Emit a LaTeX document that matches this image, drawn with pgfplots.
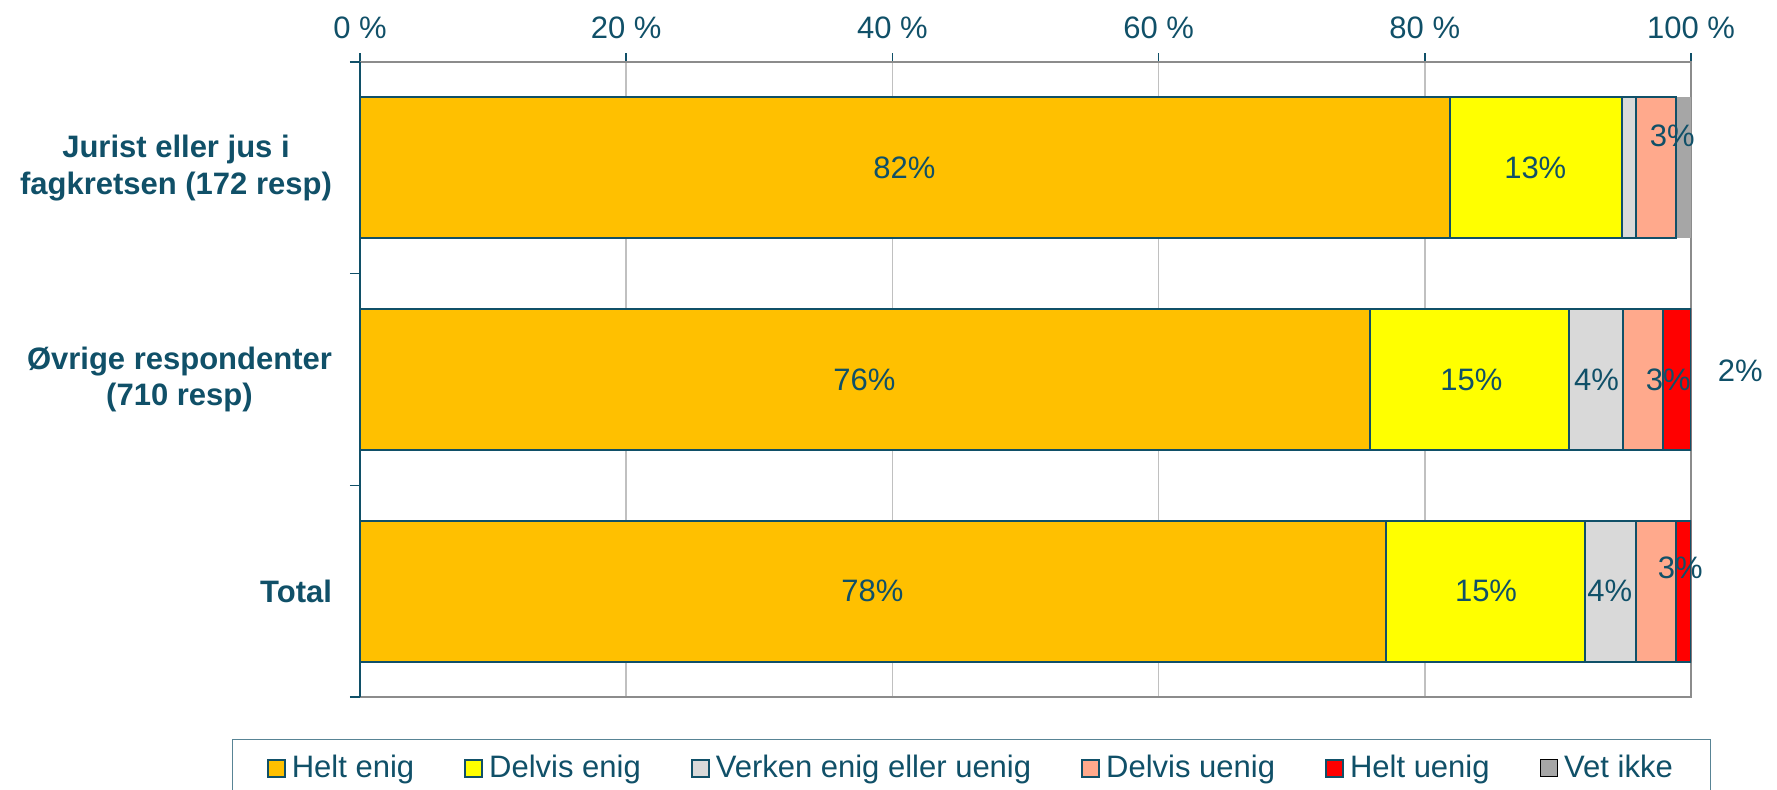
\documentclass[border=0pt]{standalone}
\usepackage{pgfplots}
\pgfplotsset{compat=1.18}
\usepackage{fontspec}
\setmainfont{Liberation Sans}
\definecolor{tealc}{RGB}{16,80,104}
\definecolor{framec}{RGB}{140,140,140}
\definecolor{gridc}{RGB}{192,192,192}
\definecolor{c1}{RGB}{255,192,0}
\definecolor{c2}{RGB}{255,255,0}
\definecolor{c3}{RGB}{217,217,217}
\definecolor{c4}{RGB}{255,169,140}
\definecolor{c5}{RGB}{255,0,0}
\definecolor{c6}{RGB}{166,166,166}
\newcommand{\lbl}{\fontsize{15.5}{18.3}\selectfont}

\begin{document}
\begin{tikzpicture}
\useasboundingbox (-180pt,-46pt) rectangle (708.5pt,348.5pt);
\begin{axis}[
    name=ax, at={(0,0)}, anchor=south west,
    scale only axis, width=665.5pt, height=317.5pt,
    xbar stacked, bar width=0.666,
    legend image code/.code={\draw[#1] (0pt,-4.25pt) rectangle (8.5pt,4.25pt); \path[draw=none, fill=none] (0pt,0pt) -- (10pt,0pt);},
    xmin=0, xmax=100, ymin=-0.5, ymax=2.5, y dir=reverse,
    axis line style={draw=framec, line width=1pt},
    xtick={0,20,40,60,80,100},
    xticklabels={0 \%,20 \%,40 \%,60 \%,80 \%,100 \%},
    xtick pos=right, xticklabel pos=right,
    xticklabel style={font=\lbl, text=tealc, yshift=3.5pt},
    xmajorgrids, grid style={draw=gridc, line width=0.8pt},
    tick align=outside,
    x tick style={draw=tealc, line width=0.8pt},
    major tick length=4.5pt,
    ytick={0,1,2},
    yticklabels={{Jurist eller jus i\\fagkretsen (172 resp)},{Øvrige respondenter\\(710 resp)},{Total}},
    ytick pos=left,
    y tick style={draw=none},
    yticklabel style={font=\lbl\bfseries, text=tealc, align=center, xshift=-6pt},
    extra y ticks={-0.5,0.5,1.5,2.5},
    extra y tick labels={},
    extra y tick style={y tick style={draw=tealc, line width=0.8pt}, major tick length=5pt},
    legend columns=6,
    legend style={at={(-0.096,-0.066)}, anchor=north west, draw=tealc!70, line width=0.6pt,
        font=\lbl, text=tealc, inner xsep=17pt, inner ysep=6pt,
        /tikz/every even column/.append style={column sep=23pt}},
]
\addplot[fill=c1, draw=tealc, line width=1pt] coordinates {(81.9,0) (75.9,1) (77.1,2)};
\addplot[fill=c2, draw=tealc, line width=1pt] coordinates {(12.9,0) (14.9,1) (14.9,2)};
\addplot[fill=c3, draw=tealc, line width=1pt] coordinates {(1.1,0) (4.1,1) (3.9,2)};
\addplot[fill=c4, draw=tealc, line width=1pt] coordinates {(3.0,0) (3.0,1) (3.0,2)};
\addplot[fill=c5, draw=tealc, line width=1pt] coordinates {(0,0) (2.1,1) (1.1,2)};
\addplot[fill=c6, draw=none] coordinates {(1.1,0) (0,1) (0,2)};
\legend{Helt enig, Delvis enig, Verken enig eller uenig, Delvis uenig, Helt uenig, Vet ikke}
\end{axis}
\draw[tealc, line width=1pt] (ax.north west) -- (ax.south west);
\begin{axis}[
    at={(0,0)}, anchor=south west,
    scale only axis, width=665.5pt, height=317.5pt,
    xmin=0, xmax=100, ymin=-0.5, ymax=2.5, y dir=reverse,
    hide axis, clip=false,
]
\addplot[draw=none, mark=none, nodes near coords, point meta=explicit symbolic,
    every node near coord/.append style={anchor=center, font=\lbl, text=tealc, inner sep=0pt}]
    coordinates {
    (40.9,0) [82\%] (88.3,0) [13\%] (98.6,-0.15) [3\%]
    (37.9,1) [76\%] (83.5,1) [15\%] (92.9,1) [4\%] (98.3,1) [3\%] (103.7,0.96) [2\%]
    (38.5,2) [78\%] (84.6,2) [15\%] (93.9,2) [4\%] (99.2,1.89) [3\%]
};
\end{axis}
\end{tikzpicture}
\end{document}
